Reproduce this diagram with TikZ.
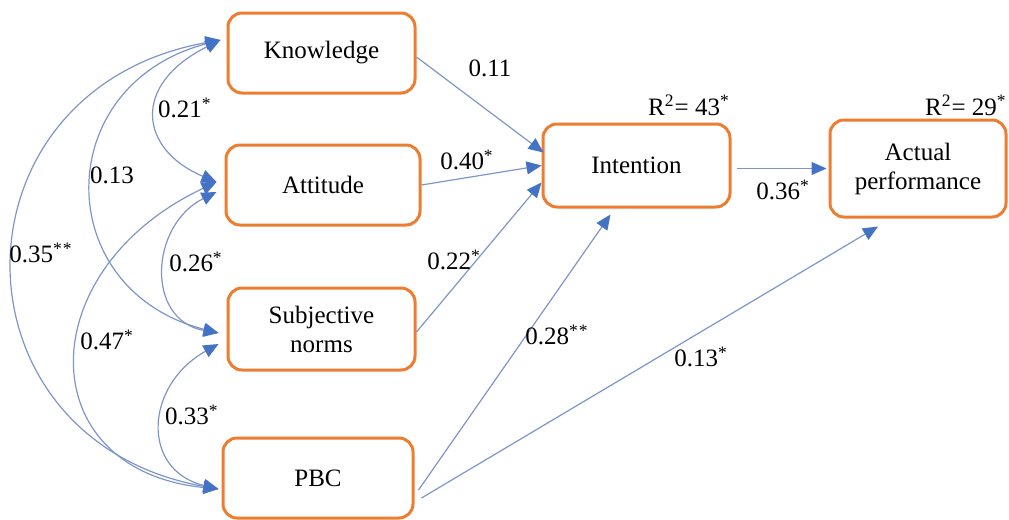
\documentclass[tikz,border=0pt]{standalone}
\usepackage{fontspec}
\setmainfont{Liberation Serif}
\usetikzlibrary{arrows.meta,calc}
\definecolor{boxorange}{RGB}{237,125,49}
\definecolor{linkblue}{RGB}{125,150,200}
\definecolor{tipblue}{RGB}{68,114,196}
\newcommand\sig{\textsuperscript{*}}
\begin{document}
\begin{tikzpicture}[x=0.5pt,y=-0.5pt,
  box/.style={draw=boxorange, line width=1.5pt, rounded corners=7pt, fill=white, align=center, inner sep=0pt, font=\fontsize{12.5}{14.5}\selectfont},
  lbl/.style={font=\fontsize{12.5}{14.5}\selectfont, inner sep=0pt},
  pathline/.style={draw=linkblue, line width=0.6pt, -{Triangle[length=7.5pt,width=6.5pt,color=tipblue]}},
  cov/.style={draw=linkblue, line width=0.6pt, {Triangle[length=7.5pt,width=6.5pt,color=tipblue]}-{Triangle[length=7.5pt,width=6.5pt,color=tipblue]}}]
\useasboundingbox (0,0) rectangle (1009,520);
\node[box, minimum width=93.5pt, minimum height=40pt] (K) at (321.5,53) {Knowledge};
\node[box, minimum width=97pt, minimum height=40pt] (A) at (323,185) {Attitude};
\node[box, minimum width=93.5pt, minimum height=41pt] (S) at (321.5,329) {Subjective\\norms};
\node[box, minimum width=95pt, minimum height=40pt] (P) at (318,478) {PBC};
\node[box, minimum width=93.5pt, minimum height=41.5pt] (I) at (636.5,165.5) {Intention};
\node[box, minimum width=88pt, minimum height=48.5pt] (Q) at (918,168.5) {Actual\\performance};

% covariances
\coordinate (kt) at ($(K.west)+(-6,-13)$);
\coordinate (at1) at ($(A.west)+(-8,-3)$);
\coordinate (at2) at ($(A.west)+(-8,7)$);
\coordinate (st1) at ($(S.west)+(-8,4)$);
\coordinate (st2) at ($(S.west)+(-8,15)$);
\coordinate (pt) at ($(P.west)+(-3,11)$);
\draw[cov] (kt) .. controls (-55,90) and (-55,440) .. (pt);
\draw[cov] (kt) .. controls (50,85) and (50,290) .. (st1);
\draw[cov] (at1) .. controls (30,270) and (30,470) .. (pt);
\draw[cov] (kt) .. controls (130,85) and (140,150) .. (at1);
\draw[cov] (at2) .. controls (150,225) and (145,320) .. (st1);
\draw[cov] (st2) .. controls (145,385) and (140,470) .. (pt);

% paths
\draw[pathline] ($(K.east)+(0,4)$) -- ($(I.west)+(2,-13)$);
\draw[pathline] (A.east) -- (I.west);
\draw[pathline] ($(S.east)+(0,3)$) -- ($(I.west)+(0,17)$);
\draw[pathline] ($(P.east)+(4,12)$) -- ($(I.south)+(-26,6)$);
\draw[pathline] ($(P.east)+(7,20)$) -- ($(Q.south)+(-40,8)$);
\draw[pathline] ($(I.east)+(5,3)$) -- ($(Q.west)+(-2,0)$);

% labels
\node[lbl] (l1) at (185,108) {0.21\sig};
\node[lbl] (l2) at (112,175) {0.13};
\node[lbl] (l3) at (41,253) {0.35\sig\sig};
\node[lbl] (l4) at (196,262) {0.26\sig};
\node[lbl] (l5) at (107,340) {0.47\sig};
\node[lbl] (l6) at (192,415) {0.33\sig};
\node[lbl] (l7) at (490,68) {0.11};
\node[lbl] (l8) at (467,160) {0.40\sig};
\node[lbl] (l9) at (454,260) {0.22\sig};
\node[lbl] (l10) at (557,335) {0.28\sig\sig};
\node[lbl] (l11) at (701,357) {0.13\sig};
\node[lbl] (l12) at (783,190) {0.36\sig};
\node[lbl] (r1) at (689,105) {R\textsuperscript{2}= 43\sig};
\node[lbl, anchor=east] (r2) at (1007,105) {R\textsuperscript{2}= 29\sig};
\end{tikzpicture}
\end{document}
